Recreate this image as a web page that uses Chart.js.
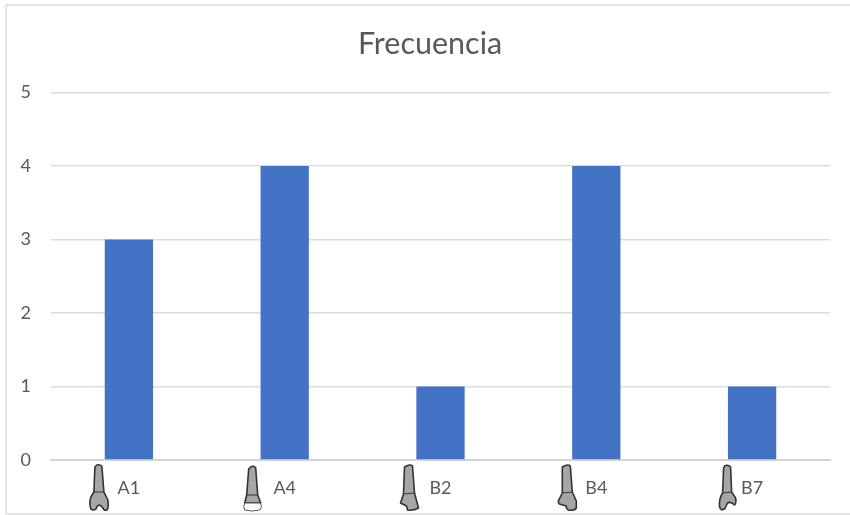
<!DOCTYPE html>
<html lang="es">
<head>
<meta charset="UTF-8">
<title>Frecuencia</title>
<script src="https://cdn.jsdelivr.net/npm/chart.js"></script>
<style>
  html, body {
    margin: 0;
    padding: 0;
    background: #fff;
    overflow: hidden;
  }
  canvas {
    position: absolute;
    left: 0;
    top: 0;
  }
  /* the frame of the pasted chart, cut off on the right */
  .frame {
    position: absolute;
    left: 5px;
    top: 4px;
    width: 900px;
    height: 507px;
    border: 2px solid #e6e6e6;
  }
</style>
</head>
<body>
  <canvas id="chart" width="850" height="515"></canvas>
  <div class="frame"></div>

  <script>
    const categories = ['A1', 'A4', 'B2', 'B4', 'B7'];
    const frecuencia = [3, 4, 1, 4, 1];
    const yTicks = [0, 1, 2, 3, 4, 5];

    // tooth outlines next to each label, one per category (x from tooth centre, y from top)
    const teeth = [
      { dx: -30, outline: 'M-2,0 Q1,-1 3,1.5 L5,27 L9,35 Q10,43 8,45 Q5,46 4,43 Q2,40 0,40 Q-2,41 -3,44 Q-6,46 -8,44 Q-10,38 -8,32 L-5,27 L-4,2 Z', line: 'M-5,27 L5,27' },
      { dx: -32, outline: 'M-2,2 Q1,0 3,3 L5,30 L8,38 L-8,38 L-6,30 L-4,4 Z', line: 'M-6,30 L5,30', cap: 'M-8,38 Q-10,42 -8,45 Q0,47 7,45 Q10,42 8,38 Z' },
      { dx: -31, outline: 'M-3,1 Q1,-1 3,1 L5,28 L9,43 Q4,46 -2,45 L-3,41 L-9,38 L-6,29 L-5,2 Z', line: 'M-6,29 L5,28' },
      { dx: -29, outline: 'M-3,1 Q1,-1 3,1 L5,27 L9,36 L9,43 Q7,46 1,45 L-1,43 L-1,41 L-8,39 Q-10,37 -8,34 L-5,28 L-5,2 Z', line: 'M-5,28 L5,27' },
      { dx: -24.5, outline: 'M-3,1 Q0,-1 3,2 L4,27 L8,33 Q9,38 7,40 Q3,36 0,38 Q-2,42 -3,44 Q-7,46 -8,42 Q-9,34 -5,28 L-4,3 Z', line: 'M-5,28 L4,27' }
    ];

    const toothIcons = {
      id: 'toothIcons',
      // the title sits a little left of the plot centre, not of the page
      afterLayout(chart) {
        chart.titleBlock.left += 30;
      },
      afterDraw(chart) {
        const ctx = chart.ctx;
        const x = chart.scales.x;
        teeth.forEach((t, i) => {
          ctx.save();
          ctx.translate(x.getPixelForTick(i) + t.dx, x.top + 5);
          ctx.filter = 'blur(0.4px)';
          ctx.lineWidth = 1.6;
          ctx.strokeStyle = '#333333';
          ctx.lineJoin = 'round';
          const body = new Path2D(t.outline);
          ctx.fillStyle = '#a6a6a6';
          ctx.fill(body);
          ctx.stroke(body);
          ctx.lineWidth = 1;
          ctx.stroke(new Path2D(t.line));
          if (t.cap) {
            const cap = new Path2D(t.cap);
            ctx.fillStyle = '#ffffff';
            ctx.fill(cap);
            ctx.strokeStyle = '#555555';
            ctx.stroke(cap);
          }
          ctx.restore();
        });
      }
    };

    new Chart(document.getElementById('chart').getContext('2d'), {
      type: 'bar',
      data: {
        labels: categories,
        datasets: [{
          label: 'Frecuencia',
          data: frecuencia,
          backgroundColor: '#4472c4',
          categoryPercentage: 1,
          barPercentage: 0.31
        }]
      },
      options: {
        responsive: false,
        animation: false,
        layout: { padding: { right: 20, left: 0, top: 0, bottom: 0 } },
        plugins: {
          legend: { display: false },
          tooltip: { enabled: false },
          title: {
            display: true,
            text: 'Frecuencia',
            color: '#595959',
            font: { family: 'Lato', size: 30.5, weight: 'normal' },
            padding: { top: 26, bottom: 30 }
          }
        },
        scales: {
          x: {
            afterFit(scale) { scale.height = 55; },
            grid: { display: false },
            border: { color: '#d4d4d4', width: 2 },
            ticks: {
              color: '#595959',
              font: { family: 'Lato', size: 18 },
              padding: 9,
              maxRotation: 0
            }
          },
          y: {
            min: 0,
            max: 5,
            afterFit(scale) { scale.width = 51; },
            afterBuildTicks(scale) { scale.ticks = yTicks.map(v => ({ value: v })); },
            grid: { color: '#dcdcdc', lineWidth: 1.5, drawTicks: false },
            border: { display: false },
            ticks: {
              color: '#595959',
              font: { family: 'Lato', size: 18 },
              padding: 20
            }
          }
        }
      },
      plugins: [toothIcons]
    });
  </script>
</body>
</html>
